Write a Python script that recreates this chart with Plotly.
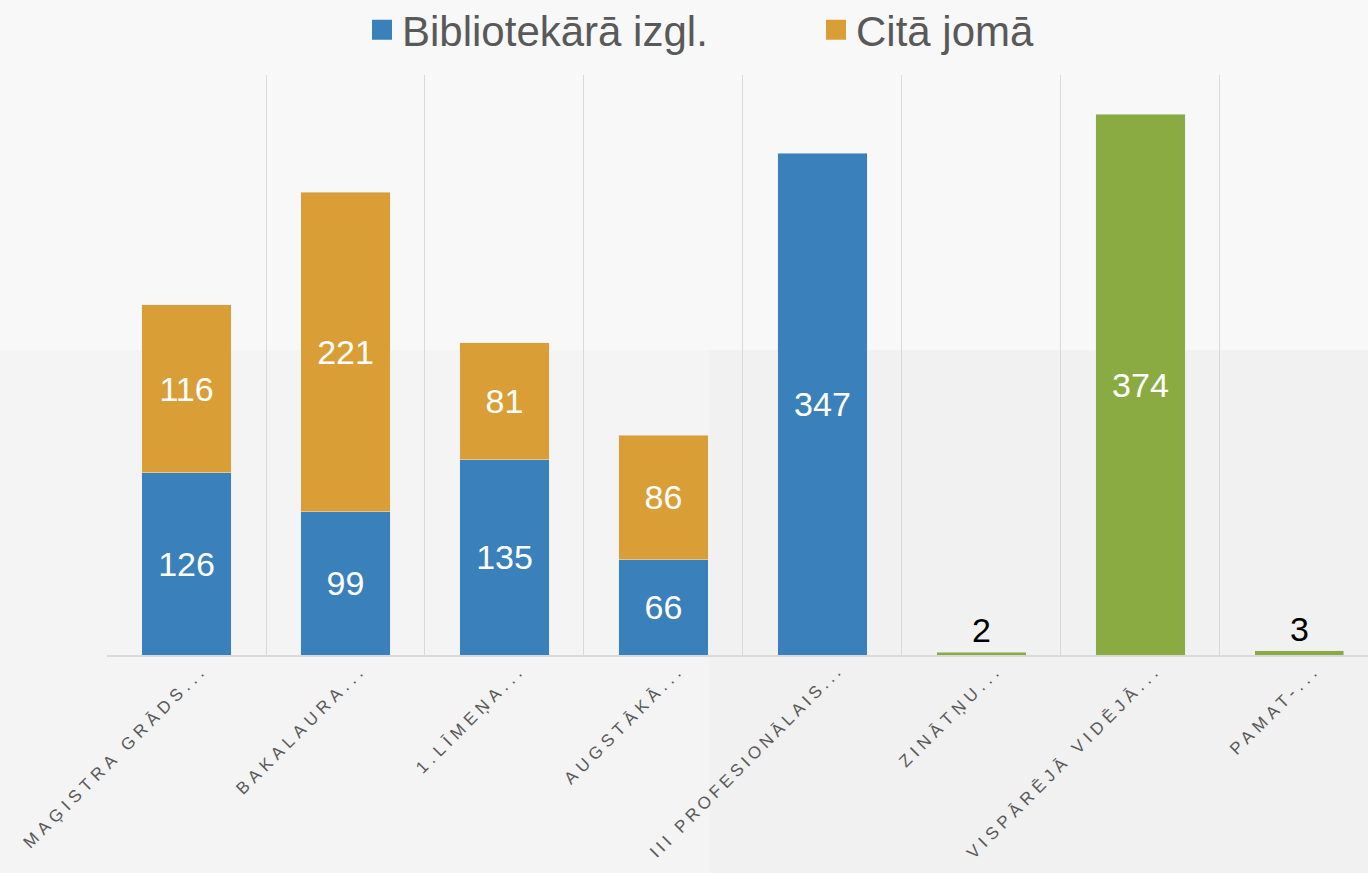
import plotly.graph_objects as go

categories = ["MAĢISTRA GRĀDS...", "BAKALAURA...", "1.LĪMEŅA...", "AUGSTĀKĀ...",
              "III PROFESIONĀLAIS...", "ZINĀTŅU...", "VISPĀRĒJĀ VIDĒJĀ...", "PAMAT-..."]
biblio = [126, 99, 135, 66, 347, None, None, None]
cita = [116, 221, 81, 86, None, None, None, None]
other = [None, None, None, None, None, 2, 374, 3]

BLUE = "#3A80BB"
ORANGE = "#DA9E37"
GREEN = "#8AAB41"
TXT = "#595959"
FONT = "Liberation Sans, Arial, sans-serif"

x = categories

fig = go.Figure()
fig.add_trace(go.Bar(x=x, y=biblio, marker_color=BLUE, showlegend=False,
                     text=[str(v) if v is not None else "" for v in biblio],
                     textposition="inside", insidetextanchor="middle",
                     textfont=dict(color="white", size=34, family=FONT),
                     constraintext="none", textangle=0, hoverinfo="skip"))
fig.add_trace(go.Bar(x=x, y=cita, marker_color=ORANGE, showlegend=False,
                     text=[str(v) if v is not None else "" for v in cita],
                     textposition="inside", insidetextanchor="middle",
                     textfont=dict(color="white", size=34, family=FONT),
                     constraintext="none", textangle=0, hoverinfo="skip"))
fig.add_trace(go.Bar(x=x, y=other, marker_color=GREEN, showlegend=False,
                     text=[str(v) if v is not None else "" for v in other],
                     textposition=["inside" if (v is not None and v > 20) else "outside" for v in other],
                     insidetextanchor="middle",
                     insidetextfont=dict(color="white", size=34, family=FONT),
                     outsidetextfont=dict(color="black", size=34, family=FONT),
                     constraintext="none", textangle=0, cliponaxis=False, hoverinfo="skip"))

# legend entries
fig.add_trace(go.Scatter(x=[None], y=[None], mode="markers", name="Bibliotekārā izgl.",
                         marker=dict(symbol="square", size=16, color=BLUE,
                                     line=dict(color=BLUE, width=4))))
fig.add_trace(go.Scatter(x=[None], y=[None], mode="markers", name="Citā jomā",
                         marker=dict(symbol="square", size=16, color=ORANGE,
                                     line=dict(color=ORANGE, width=4))))

W, H = 1368, 873
L, R, T, B = 107, 0, 75, 218
pw, ph = W - L - R, H - T - B

def px(xp):
    return (xp - L) / pw

def py(yp):
    return (H - B - yp) / ph

shapes = [
    dict(type="rect", xref="paper", yref="paper", x0=px(0), x1=px(W), y0=py(0), y1=py(350),
         fillcolor="#F8F8F8", line_width=0, layer="below"),
    dict(type="rect", xref="paper", yref="paper", x0=px(0), x1=px(710), y0=py(350), y1=py(H),
         fillcolor="#F4F4F4", line_width=0, layer="below"),
    dict(type="rect", xref="paper", yref="paper", x0=px(710), x1=px(W), y0=py(350), y1=py(H),
         fillcolor="#F1F1F1", line_width=0, layer="below"),
]

# letter spacing per label (longest label slightly tighter so it stays inside the page)
ticktext = []
for c in categories:
    sp = 4 if len(c) > 20 else 5
    ticktext.append('<span style="letter-spacing:%dpx">%s</span>' % (sp, c))

fig.update_layout(
    width=W, height=H,
    margin=dict(l=L, r=R, t=T, b=B, pad=0, autoexpand=False),
    paper_bgcolor="#F3F3F3", plot_bgcolor="rgba(0,0,0,0)",
    barmode="stack", bargap=0.44,
    shapes=shapes,
    font=dict(family=FONT, color=TXT),
    legend=dict(orientation="h", x=px(362), xanchor="left", y=py(30), yanchor="middle",
                font=dict(size=42, color=TXT, family=FONT), bgcolor="rgba(0,0,0,0)",
                traceorder="normal", entrywidth=409, itemsizing="trace"),
    xaxis=dict(type="category", range=[-0.5, 7.431], tickmode="array", tickvals=categories,
               ticktext=ticktext, automargin=False, ticklabelshift=16, ticklabelstandoff=-4,
               tickangle=-45, tickfont=dict(size=17, color=TXT, family=FONT),
               showgrid=True, gridcolor="#D9D9D9", gridwidth=1, tickson="boundaries",
               ticks="", showline=True, linecolor="#D9D9D9", linewidth=2, zeroline=False,
               fixedrange=True),
    yaxis=dict(range=[0, 401], showticklabels=False, showgrid=False, zeroline=False,
               showline=False, ticks="", automargin=False, fixedrange=True),
)

fig.write_html("out.html", config={"displayModeBar": False})

with open("out.html", "r", encoding="utf-8") as f:
    html = f.read()
html = html.replace("<body>", '<body style="margin:0;padding:0;overflow:hidden">', 1)
with open("out.html", "w", encoding="utf-8") as f:
    f.write(html)
